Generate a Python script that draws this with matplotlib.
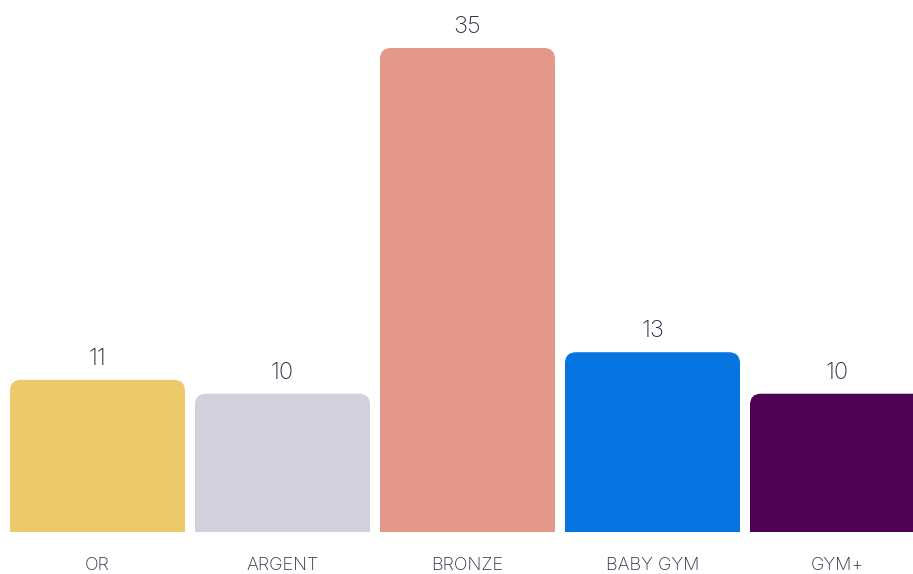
import matplotlib.pyplot as plt
from matplotlib.patches import FancyBboxPatch, Rectangle

categories = ['OR', 'ARGENT', 'BRONZE', 'BABY GYM', 'GYM+']
values = [11, 10, 35, 13, 10]
colors = ['#ECC96A', '#D1D0DB', '#E3988A', '#0675E2', '#4F0253']
text_color = '#2B2F45'

W, H = 913, 574
fig = plt.figure(figsize=(W / 100, H / 100), dpi=100)
ax = fig.add_axes([0, 42 / H, 1, 1 - 42 / H])

px_x = 185.0                 # pixels per x unit
px_y = 532.0 / 38.47         # pixels per y unit
ax.set_xlim(-97.5 / px_x, (W - 97.5) / px_x)
ax.set_ylim(0, 38.47)

width = 175 / px_x
radius = 11 / px_x
aspect = px_x / px_y

for i, (v, c) in enumerate(zip(values, colors)):
    left = i - width / 2
    ax.add_patch(FancyBboxPatch((left, 0), width, v,
                                boxstyle=f'round,pad=0,rounding_size={radius}',
                                mutation_aspect=aspect, fc=c, ec='none'))
    ax.add_patch(Rectangle((left, 0), width, v / 2, fc=c, ec='none'))
    ax.text(i, v + 10 / px_y, str(v), ha='center', va='bottom',
            fontsize=17, color=text_color, family='Inter', fontweight='light')
    fig.text((97.5 + i * px_x) / W, 1 - 565 / H, categories[i], ha='center', va='center',
             fontsize=13, color=text_color, family='Inter', fontweight='light')

ax.axis('off')
fig.savefig('out.png', dpi=100, facecolor='white')
